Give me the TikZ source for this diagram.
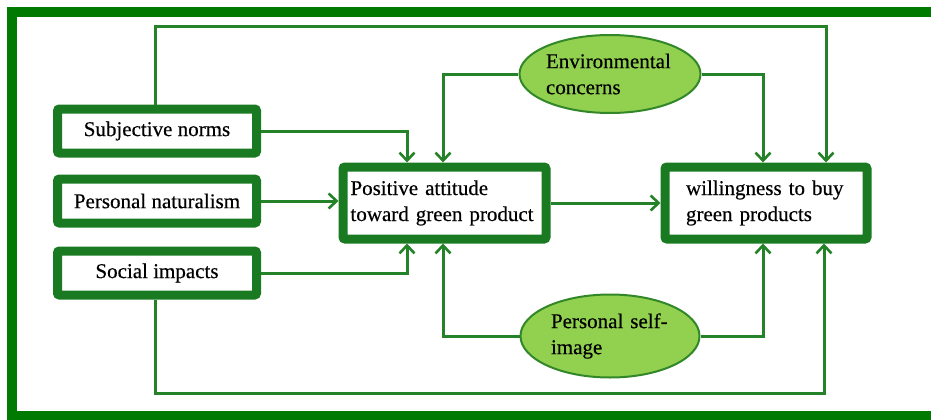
\documentclass[tikz,border=0pt]{standalone}
\usepackage{fontspec}
\setmainfont{Liberation Serif}
\newfontfamily\diagfont{Liberation Serif}[FakeBold=0.4]
\usetikzlibrary{arrows.meta,shapes.geometric}
\definecolor{framecol}{RGB}{0,122,0}
\definecolor{boxcol}{RGB}{26,122,34}
\definecolor{linecol}{RGB}{36,130,40}
\definecolor{ellfill}{RGB}{146,208,80}
\definecolor{elldraw}{RGB}{50,135,40}
\tikzset{
  box/.style={draw=boxcol, line width=9pt, fill=white, rounded corners=2pt,
    inner sep=0pt, font=\diagfont\fontsize{21}{26}\selectfont},
  sidebox/.style={box, minimum width=199pt, minimum height=44pt},
  bigbox/.style={box, minimum width=203pt, minimum height=72pt, align=left},
  oval/.style={ellipse, draw=elldraw, line width=2pt, fill=ellfill, inner sep=0pt,
    minimum width=179pt, align=left, font=\diagfont\fontsize{21}{26}\selectfont},
  conn/.style={draw=linecol, line width=3pt},
  arr/.style={conn, -{Straight Barb[length=8pt,width=15pt,line width=2.6pt]}}
}
\begin{document}
\begin{tikzpicture}[x=1pt,y=-1pt]
\useasboundingbox (0,0) rectangle (931,420);
% outer frame
\draw[framecol, line width=10pt] (960,12.5) -- (11.5,12.5) -- (11.5,415.5) -- (960,415.5);

% nodes
\node[sidebox] (sn) at (157,131) {Subjective norms};
\node[sidebox] (pn) at (157,201) {Personal naturalism};
\node[sidebox] (si) at (157,273) {Social impacts};
\node[bigbox, text width=188pt] (pa) at (444.5,203) {Positive attitude\\toward green product};
\node[bigbox, minimum width=202pt, text width=160pt] (wb) at (766,203) {willingness to buy\\green products};
\node[oval, minimum height=78pt, text width=128pt] (env) at (610,74) {Environmental\\concerns};
\node[oval, minimum height=83pt, text width=118pt] (psi) at (610,336) {Personal self-\\image};

% helper coordinates
\coordinate (tl) at (155,27);
\coordinate (tr) at (826,27);
\coordinate (bl) at (155,393);
\coordinate (br) at (824,393);
\coordinate (xa) at (407,0);
\coordinate (xb) at (443,0);
\coordinate (xc) at (763,0);

% connectors
\draw[arr] (sn.north -| tl) -- (tl) -- (tr) -- (tr |- wb.north);
\draw[arr] (si.south -| bl) -- (bl) -- (br) -- (br |- wb.south);
\draw[arr] (sn.east) -| (xa |- pa.north);
\draw[arr] (pn.east) -- (pn.east -| pa.west);
\draw[arr] (si.east) -| (xa |- pa.south);
\draw[arr] (env.west) -| (xb |- pa.north);
\draw[arr] (env.east) -| (xc |- wb.north);
\draw[arr] (psi.west) -| (xb |- pa.south);
\draw[arr] (psi.east) -| (xc |- wb.south);
\draw[arr] (pa.east) -- (pa.east -| wb.west);
\end{tikzpicture}
\end{document}
